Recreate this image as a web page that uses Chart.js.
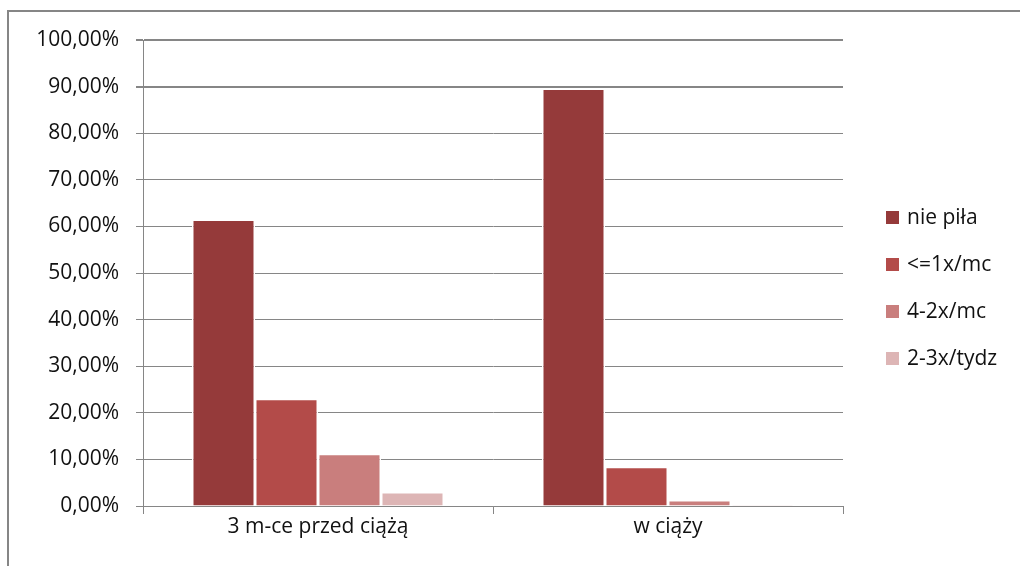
<!DOCTYPE html>
<html lang="pl">
  <head>
    <meta charset="UTF-8" />
    <title>Spożycie alkoholu</title>
    <script src="https://cdn.jsdelivr.net/npm/chart.js"></script>
    <style>
      html, body { margin: 0; padding: 0; background: #fff; }
      .chart-container { width: 1020px; height: 566px; }
    </style>
  </head>
  <body>
    <div class="chart-container">
      <canvas id="alcoholChart" width="1020" height="566"></canvas>
    </div>

    <script>
      // dane (procenty)
      const categories = ["3 m-ce przed ciążą", "w ciąży"];
      const seriesNames = ["nie piła", "<=1x/mc", "4-2x/mc", "2-3x/tydz"];
      const niePila = [61.5, 89.6];
      const razWMiesiacu = [23.0, 8.4];
      const dwaCztery = [11.2, 1.3];
      const dwaTrzyTydz = [3.0, 0.2];
      const colors = ["#953a3a", "#b34b49", "#c97e7d", "#ddb5b5"];

      const FONT = "'Open Sans', sans-serif";
      const GRID = "#868686";

      // ramka wokół wykresu i własna legenda
      const framePlugin = {
        id: "frame",
        beforeDraw(chart) {
          const c = chart.ctx;
          c.save();
          c.strokeStyle = GRID;
          c.lineWidth = 2;
          c.beginPath();
          c.moveTo(8, 566);
          c.lineTo(8, 11);
          c.lineTo(1020, 11);
          c.stroke();
          c.restore();
        },
        afterDraw(chart) {
          const c = chart.ctx;
          c.save();
          c.font = "21px " + FONT;
          c.textBaseline = "middle";
          chart.data.datasets.forEach((ds, i) => {
            const y = 218 + i * 47;
            c.fillStyle = ds.backgroundColor;
            c.fillRect(886, y - 7, 13, 13);
            c.fillStyle = "#111";
            c.fillText(ds.label, 907, y);
          });
          c.restore();
        },
      };

      const seriesData = [niePila, razWMiesiacu, dwaCztery, dwaTrzyTydz];

      new Chart(document.getElementById("alcoholChart").getContext("2d"), {
        type: "bar",
        data: {
          labels: categories,
          datasets: seriesNames.map((name, i) => ({
            label: name,
            data: seriesData[i],
            backgroundColor: colors[i],
            borderColor: "#ffffff",
            borderWidth: 1.5,
            categoryPercentage: 0.72,
            barPercentage: 1.0,
          })),
        },
        options: {
          responsive: false,
          animation: false,
          layout: { padding: { left: 0, right: 177, top: 40, bottom: 0 } },
          plugins: {
            legend: { display: false },
            tooltip: { enabled: false },
          },
          scales: {
            x: {
              afterFit(scale) {
                scale.height = 60;
              },
              grid: {
                offset: true,
                drawOnChartArea: false,
                color: GRID,
                tickLength: 8,
                lineWidth: 1,
              },
              border: { color: GRID, width: 1 },
              ticks: {
                color: "#111",
                font: { family: FONT, size: 21 },
                padding: 0,
              },
            },
            y: {
              min: 0,
              max: 100,
              afterFit(scale) {
                scale.width = 143;
              },
              ticks: {
                stepSize: 10,
                color: "#111",
                font: { family: FONT, size: 21 },
                padding: 17,
                callback: (v) => v.toFixed(2).replace(".", ",") + "%",
              },
              grid: {
                color: GRID,
                tickLength: 7,
                lineWidth: (ctx) => (ctx.tick && ctx.tick.value >= 90 ? 2 : 1),
              },
              border: { color: GRID, width: 1 },
            },
          },
        },
        plugins: [framePlugin],
      });
    </script>
  </body>
</html>
